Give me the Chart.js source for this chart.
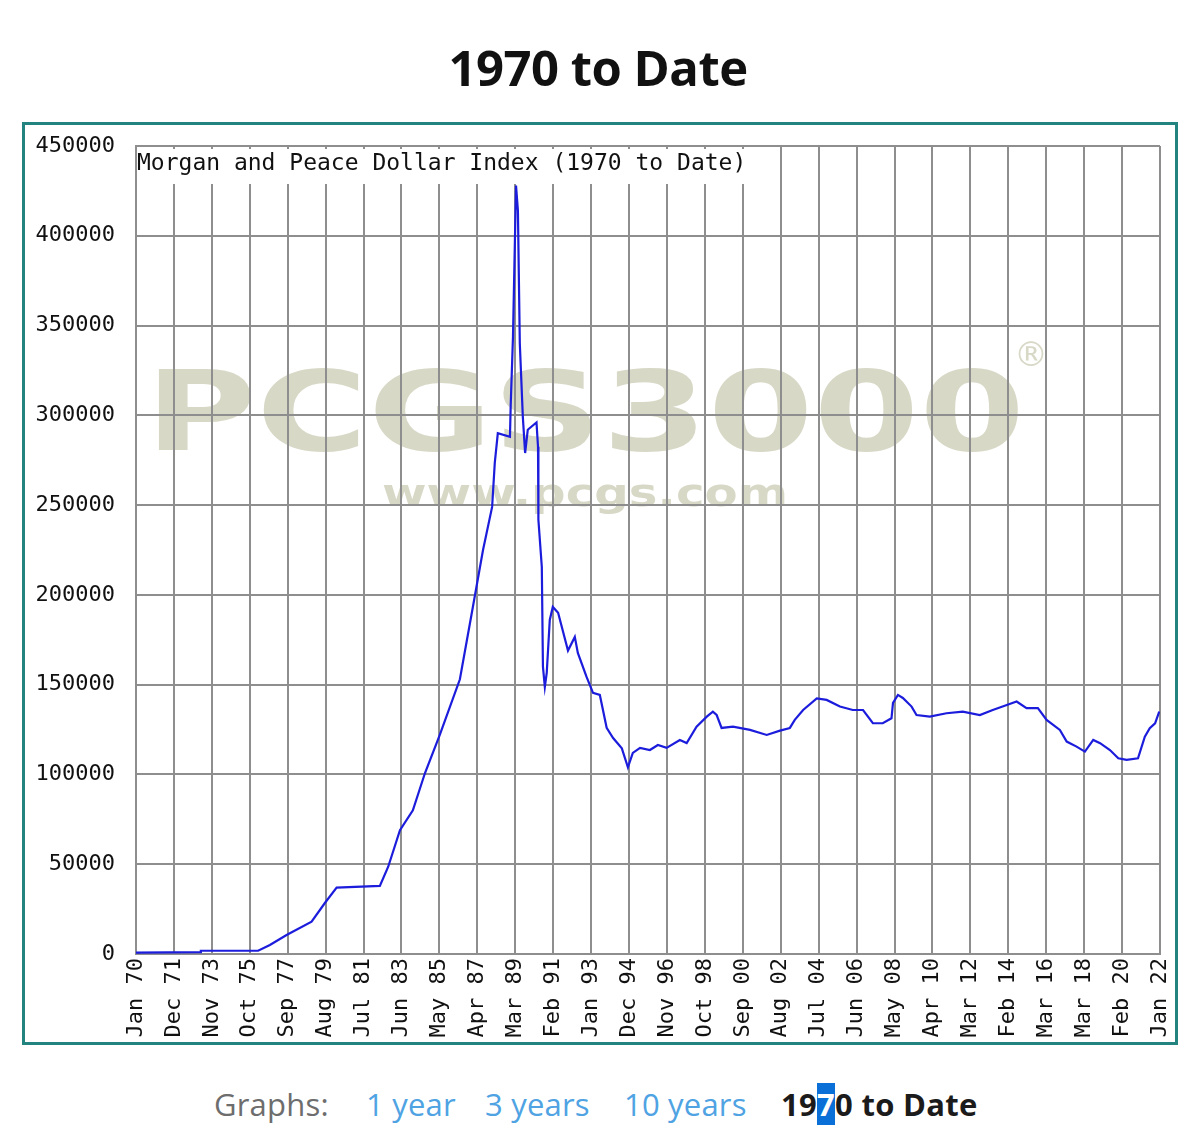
<!DOCTYPE html>
<html>
<head>
<meta charset="utf-8">
<script src="https://cdn.jsdelivr.net/npm/chart.js@4.4.1/dist/chart.umd.min.js"></script>
<style>
  html, body { margin: 0; padding: 0; background: #ffffff; }
  body { width: 1200px; height: 1147px; position: relative; overflow: hidden; }
  #pageTitle { position: absolute; left: 0; width: 1196px; top: 43px; text-align: center;
    font-family: "Open Sans", sans-serif; font-weight: 700; font-size: 49px; line-height: 1; color: #111; letter-spacing: -0.5px; }
  #frame { position: absolute; left: 22px; top: 122px; width: 1156px; height: 923px; box-sizing: border-box;
    border: 3px solid #23837f; background: #fff; }
  #chart { display: block; }
  .nav { position: absolute; top: 1089px; font-family: "Open Sans", sans-serif; font-size: 31px; line-height: 1; white-space: nowrap; letter-spacing: 0.2px; }
  .gray { color: #6d6d6d; }
  .link { color: #4fa3e3; }
  .cur { color: #1b1b1b; font-weight: 700; letter-spacing: 0.3px; }
  .sel { background: #0a6fd6; color: #fff; }
</style>
</head>
<body>
<div id="pageTitle">1970 to Date</div>
<div id="frame"><canvas id="chart" width="1150" height="917"></canvas></div>
<span class="nav gray" style="left:214px;">Graphs:</span>
<span class="nav link" style="left:366px;">1 year</span>
<span class="nav link" style="left:485px;">3 years</span>
<span class="nav link" style="left:624px;">10 years</span>
<span class="nav cur" style="left:781px;">19<span class="sel">7</span>0 to Date</span>
<script>
// ---- tick labels along the x axis (one per vertical grid line) ----
const xTickLabels = ["Jan 70","Dec 71","Nov 73","Oct 75","Sep 77","Aug 79","Jul 81","Jun 83","May 85","Apr 87",
  "Mar 89","Feb 91","Jan 93","Dec 94","Nov 96","Oct 98","Sep 00","Aug 02","Jul 04","Jun 06",
  "May 08","Apr 10","Mar 12","Feb 14","Mar 16","Mar 18","Feb 20","Jan 22"];

// ---- y axis ticks ----
const yTickValues = [0,50000,100000,150000,200000,250000,300000,350000,400000,450000];

// ---- series: position along the axis (in tick-label units) ----
const samplePos = [0,1.69,1.71,3.22,3.53,3.97,4.63,4.98,5.29,6.43,6.65,6.96,7.30,7.62,8.01,8.54,8.88,9.15,9.39,9.46,
  9.54,9.86,9.88,9.94,10.02,10.07,10.12,10.20,10.26,10.33,10.56,10.60,10.61,10.70,10.73,10.78,10.83,10.91,10.99,11.13,
  11.39,11.57,11.65,11.88,12.05,12.23,12.41,12.58,12.81,12.97,13.10,13.29,13.55,13.76,13.99,14.34,14.52,14.78,15.05,15.21,
  15.31,15.44,15.74,16.19,16.63,16.98,17.24,17.37,17.59,17.95,18.21,18.56,18.90,19.17,19.43,19.69,19.92,19.96,20.09,20.22,
  20.45,20.58,20.93,21.37,21.80,22.25,22.59,22.96,23.22,23.48,23.78,24.01,24.36,24.54,24.80,25.02,25.24,25.42,25.68,25.90,
  26.12,26.42,26.60,26.73,26.87,26.98];

// ---- series: Morgan and Peace Dollar Index values ----
const indexValues = [800,1000,1800,1800,5000,10600,18000,28400,37000,37900,48600,69000,80000,100800,122000,153000,193000,225000,249000,273500,
  290000,288000,305800,343700,428000,414000,340000,299000,279000,292000,296000,282500,241800,215600,160000,148800,156500,186000,193300,190000,
  169000,176600,167700,154300,145400,144300,126000,120300,114500,104000,112000,114800,113600,116400,114800,119200,117500,126600,132200,135000,
  133100,125900,126600,124800,122000,124400,125900,130400,135900,142400,141500,137800,135900,135900,128500,128500,131300,139800,144300,142600,
  137800,133100,132200,134100,135000,133100,135900,138700,140600,136900,136900,130400,124800,118300,115500,112700,119200,117400,113600,109000,
  108100,109000,121000,125700,128500,135000];

const innerTitle = "Morgan and Peace Dollar Index (1970 to Date)";
const watermarkMain = "PCGS3000";
const watermarkUrl = "www.pcgs.com";

const points = samplePos.map((p, i) => ({ x: p, y: indexValues[i] }));
const MONO = '"DejaVu Sans Mono", "Liberation Mono", monospace';
const GRID = '#8e8e8e';

const watermarkPlugin = {
  id: 'watermark',
  beforeDraw(chart) {
    const ctx = chart.ctx;
    const a = chart.chartArea;
    ctx.save();
    ctx.fillStyle = '#d8d8c7';
    ctx.textBaseline = 'alphabetic';
    ctx.textAlign = 'left';
    ctx.font = 'bold 110px "DejaVu Sans", sans-serif';
    let w = ctx.measureText(watermarkMain).width;
    let target = 880;
    ctx.save();
    ctx.translate(a.left + 9, a.top + 304);
    ctx.scale(target / w, 1);
    ctx.fillText(watermarkMain, 0, 0);
    ctx.restore();
    ctx.font = '34px "DejaVu Sans", sans-serif';
    ctx.fillText('\u00AE', a.left + 878, a.top + 220);
    ctx.font = 'bold 38px "DejaVu Sans", sans-serif';
    w = ctx.measureText(watermarkUrl).width;
    target = 406;
    ctx.save();
    ctx.translate(a.left + 246, a.top + 360);
    ctx.scale(target / w, 1);
    ctx.fillText(watermarkUrl, 0, 0);
    ctx.restore();
    ctx.restore();
  },
  beforeDatasetsDraw(chart) {
    const ctx = chart.ctx;
    const a = chart.chartArea;
    ctx.save();
    ctx.font = '23px ' + MONO;
    const tw = ctx.measureText(innerTitle).width;
    ctx.fillStyle = '#ffffff';
    ctx.fillRect(a.left + 1, a.top + 3, tw + 6, 35);
    ctx.fillStyle = '#111';
    ctx.textBaseline = 'alphabetic';
    ctx.textAlign = 'left';
    ctx.fillText(innerTitle, a.left + 1, a.top + 24);
    ctx.restore();
  }
};

new Chart(document.getElementById('chart'), {
  type: 'line',
  data: {
    datasets: [{
      label: innerTitle,
      data: points,
      borderColor: '#1c1cdc',
      borderWidth: 2.2,
      pointRadius: 0,
      tension: 0,
      fill: false
    }]
  },
  options: {
    responsive: false,
    animation: false,
    layout: { padding: { left: 0, top: 21, right: 15, bottom: 0 } },
    plugins: { legend: { display: false }, tooltip: { enabled: false }, title: { display: false } },
    scales: {
      x: {
        type: 'linear',
        min: 0,
        max: xTickLabels.length - 1,
        afterBuildTicks(scale) { scale.ticks = xTickLabels.map((_, i) => ({ value: i })); },
        afterFit(scale) { scale.height = 88; scale.paddingLeft = 0; scale.paddingRight = 0; scale.paddingTop = 0; scale.paddingBottom = 0; },
        ticks: {
          autoSkip: false,
          maxRotation: 90,
          minRotation: 90,
          padding: 4,
          color: '#111',
          font: { family: MONO, size: 22 },
          callback: (v) => xTickLabels[v] ?? ''
        },
        grid: { color: GRID, lineWidth: 2, drawTicks: false },
        border: { color: GRID, width: 2 }
      },
      y: {
        min: 0,
        max: 450000,
        afterBuildTicks(scale) { scale.ticks = yTickValues.map(v => ({ value: v })); },
        afterFit(scale) { scale.width = 111; scale.paddingLeft = 0; scale.paddingRight = 0; scale.paddingTop = 0; scale.paddingBottom = 0; },
        ticks: {
          padding: 21,
          color: '#111',
          font: { family: MONO, size: 22 },
          callback: (v) => String(v)
        },
        grid: { color: GRID, lineWidth: 2, drawTicks: false },
        border: { color: GRID, width: 2 }
      }
    }
  },
  plugins: [watermarkPlugin]
});
</script>
</body>
</html>
